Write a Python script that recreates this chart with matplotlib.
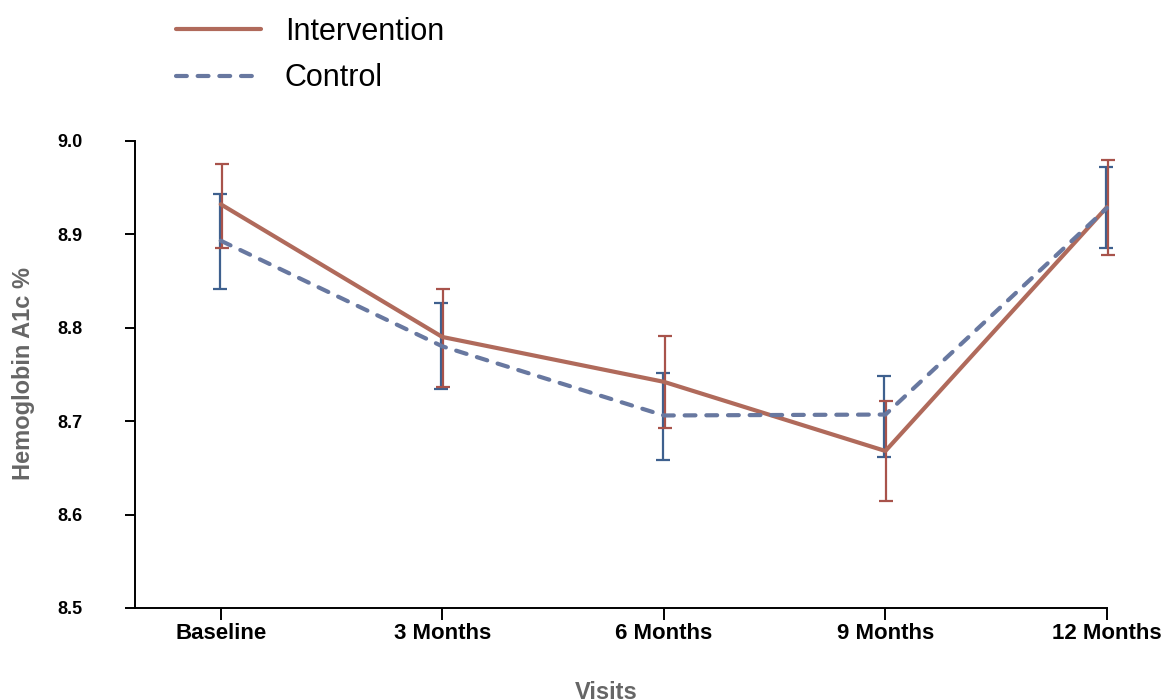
import matplotlib
matplotlib.use("Agg")
import matplotlib.pyplot as plt
import matplotlib.transforms as mtransforms

# data
visits = ["Baseline", "3 Months", "6 Months", "9 Months", "12 Months"]
interv_mean = [8.932, 8.790, 8.742, 8.668, 8.929]
interv_lo = [8.885, 8.736, 8.693, 8.614, 8.878]
interv_hi = [8.975, 8.841, 8.791, 8.722, 8.979]
ctrl_mean = [8.893, 8.780, 8.706, 8.707, 8.928]
ctrl_lo = [8.841, 8.734, 8.658, 8.662, 8.885]
ctrl_hi = [8.943, 8.826, 8.751, 8.748, 8.972]
yticks = [8.5, 8.6, 8.7, 8.8, 8.9, 9.0]

C_INT = "#B06A5B"
C_INT_ERR = "#A8534B"
C_CTL = "#6878A0"
C_CTL_ERR = "#3E608E"

plt.rcParams["font.family"] = ["Liberation Sans", "DejaVu Sans"]

W, H = 1163, 699
fig = plt.figure(figsize=(W / 100, H / 100), dpi=100)
ax = fig.add_axes([135 / W, 1 - 608 / H, (1107 - 135) / W, (608 - 140.7) / H])

x = list(range(len(visits)))

def errs(mean, lo, hi):
    return [[m - l for m, l in zip(mean, lo)], [h - m for m, h in zip(mean, hi)]]

# small sideways dodge so the two error bars don't sit exactly on top of each other
off_i = ax.transData + mtransforms.ScaledTranslation(1 / 100, 0, fig.dpi_scale_trans)
off_c = ax.transData + mtransforms.ScaledTranslation(-1 / 100, 0, fig.dpi_scale_trans)

ax.errorbar(x, ctrl_mean, yerr=errs(ctrl_mean, ctrl_lo, ctrl_hi), fmt="none",
            ecolor=C_CTL_ERR, elinewidth=1.6, capsize=4.8, capthick=1.6,
            transform=off_c, zorder=2, clip_on=False)
ax.errorbar(x, interv_mean, yerr=errs(interv_mean, interv_lo, interv_hi), fmt="none",
            ecolor=C_INT_ERR, elinewidth=1.6, capsize=4.8, capthick=1.6,
            transform=off_i, zorder=2, clip_on=False)

ax.plot(x, interv_mean, color=C_INT, lw=3, solid_capstyle="round",
        label="Intervention", zorder=3, clip_on=False)
ax.plot(x, ctrl_mean, color=C_CTL, lw=3, dashes=(2.6, 2.6), dash_capstyle="round",
        label="Control", zorder=3, clip_on=False)

ax.set_xlim(-0.387, 4.0)
ax.set_ylim(8.5, 9.0)
ax.set_xticks(x)
ax.set_xticklabels(visits, fontsize=16, fontweight="bold")
ax.set_yticks(yticks)
ax.set_yticklabels([f"{v:.1f}" for v in yticks], fontsize=13, fontweight="bold")

for s in ["top", "right"]:
    ax.spines[s].set_visible(False)
for s in ["left", "bottom"]:
    ax.spines[s].set_linewidth(1.4)
ax.tick_params(axis="y", direction="out", length=7, width=1.4, pad=31)
ax.tick_params(axis="x", direction="out", length=8.5, width=1.4, pad=2)

fig.text(24 / W, 1 - 373.5 / H, "Hemoglobin A1c %", rotation=90,
         ha="center", va="center", fontsize=17, fontweight="bold", color="#666666")
fig.text(606.5 / W, 0.0, "Visits", ha="center", va="baseline",
         fontsize=17, fontweight="bold", color="#666666")

fig.legend(loc="upper left", bbox_to_anchor=(176 / W, 1 - 17 / H),
           frameon=False, fontsize=22, handlelength=2.78, handletextpad=0.78,
           labelspacing=0.53, borderpad=0, borderaxespad=0)

fig.savefig("out.png", dpi=100)
